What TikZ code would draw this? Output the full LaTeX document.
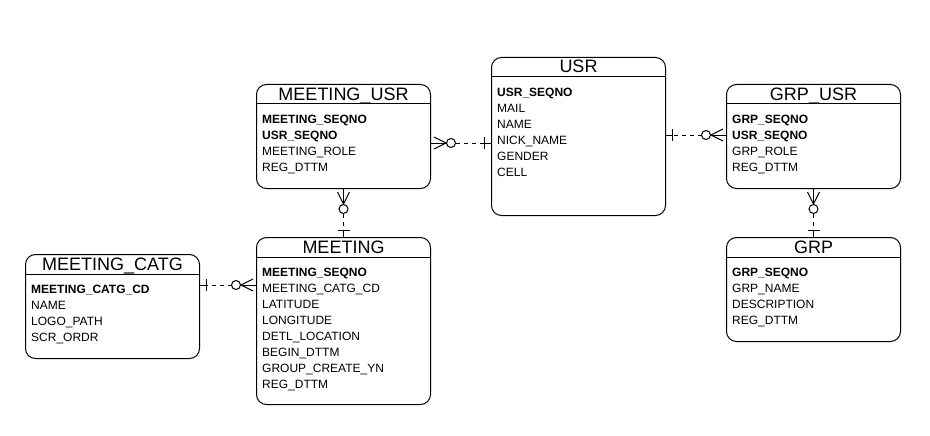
\documentclass[tikz,border=0pt]{standalone}
\usepackage{fontspec}
\setmainfont{Liberation Sans}
\usetikzlibrary{calc}
\tikzset{
  entbox/.style={draw, line width=1pt, rounded corners=10pt, inner sep=0pt, anchor=north west},
  enttitle/.style={font=\fontsize{18}{20}\selectfont, inner sep=0pt, anchor=base},
  attr/.style={font=\fontsize{12}{14}\selectfont, inner sep=0pt, anchor=base west},
  sepline/.style={line width=1pt},
  relline/.style={line width=1pt},
  reldash/.style={line width=1pt, dash pattern=on 4pt off 4pt},
}
\newcommand\erent[7]{%
  \node[entbox, minimum width=#4pt, minimum height=#5pt] (#1) at (#2,#3) {};
  \draw[sepline] ([yshift=-20pt]#1.north west) -- ([yshift=-20pt]#1.north east);
  \node[enttitle] (#1-t) at ([yshift=-16pt]#1.north) {#6};
  \foreach \a [count=\i] in {#7} {
    \node[attr] (#1-\i) at ([xshift=6pt,yshift={-39.5pt-16pt*(\i-1)}]#1.north west) {\a};
  }
}
\newcommand\errel[3]{% #1 one-side point, #2 many-side point, #3 prefix
  \coordinate (#3-b) at ($(#1)!6.5pt!(#2)$);
  \coordinate (#3-o) at ($(#2)!20pt!(#1)$);
  \coordinate (#3-oe) at ($(#2)!24.5pt!(#1)$);
  \coordinate (#3-ap) at ($(#2)!15pt!(#1)$);
  \coordinate (#3-tp) at ($(#2)!3pt!(#1)$);
  \draw[relline] (#1) -- (#3-b);
  \draw[relline] ($(#3-b)!6pt!90:(#2)$) -- ($(#3-b)!6pt!-90:(#2)$);
  \draw[reldash] (#3-oe) -- (#3-b);
  \draw[relline] (#3-o) circle (4.5pt);
  \draw[relline] ($(#3-tp)!6pt!90:(#1)$) -- (#3-ap) -- ($(#3-tp)!6pt!-90:(#1)$);
  \draw[relline] (#3-ap) -- (#2);
}
\begin{document}
\begin{tikzpicture}[x=1pt,y=-1pt]
\path[use as bounding box] (0,0) rectangle (930,436);

\erent{mu}{256}{84}{174}{104}{MEETING\_USR}{\textbf{MEETING\_SEQNO},\textbf{USR\_SEQNO},MEETING\_ROLE,REG\_DTTM}
\erent{usr}{491}{57}{174}{158}{USR}{\textbf{USR\_SEQNO},MAIL,NAME,NICK\_NAME,GENDER,CELL}
\erent{gu}{726}{84}{174}{104}{GRP\_USR}{\textbf{GRP\_SEQNO},\textbf{USR\_SEQNO},GRP\_ROLE,REG\_DTTM}
\erent{m}{256}{237}{174}{167}{MEETING}{\textbf{MEETING\_SEQNO},MEETING\_CATG\_CD,LATITUDE,LONGITUDE,DETL\_LOCATION,BEGIN\_DTTM,GROUP\_CREATE\_YN,REG\_DTTM}
\erent{grp}{726}{237}{174}{104}{GRP}{\textbf{GRP\_SEQNO},GRP\_NAME,DESCRIPTION,REG\_DTTM}
\erent{mc}{25}{254}{174}{104}{MEETING\_CATG}{\textbf{MEETING\_CATG\_CD},NAME,LOGO\_PATH,SCR\_ORDR}

\coordinate (r1a) at (usr.west |- 0,143);
\coordinate (r1b) at (mu.east |- 0,143);
\errel{r1a}{r1b}{r1}

\coordinate (r2a) at (usr.east |- 0,135);
\coordinate (r2b) at (gu.west |- 0,135);
\errel{r2a}{r2b}{r2}

\errel{m.north}{mu.south}{r3}
\errel{grp.north}{gu.south}{r4}

\coordinate (r5a) at (mc.east |- 0,285);
\coordinate (r5b) at (m.west |- 0,285);
\errel{r5a}{r5b}{r5}
\end{tikzpicture}
\end{document}
